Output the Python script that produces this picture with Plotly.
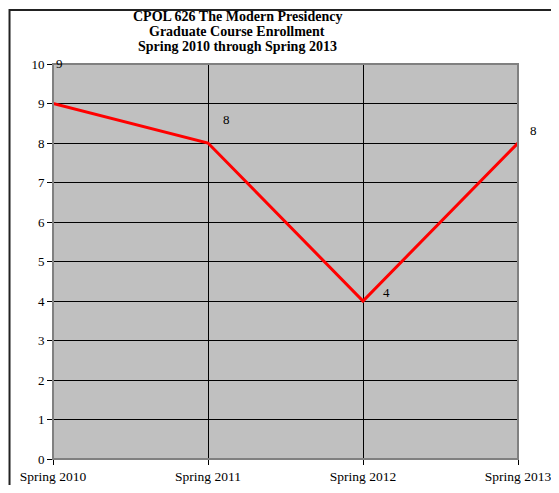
import plotly.graph_objects as go

# data
semesters = ["Spring 2010", "Spring 2011", "Spring 2012", "Spring 2013"]
enrollment = [9, 8, 4, 8]
label_offsets = [(6, 40), (18, 24), (23, 9), (15, 13)]   # (xshift, yshift) px

title_lines = ["CPOL 626 The Modern Presidency",
               "Graduate Course Enrollment",
               "Spring 2010 through Spring 2013"]

SERIF = "Liberation Serif"

fig = go.Figure()

fig.add_trace(go.Scatter(
    x=list(range(len(semesters))), y=enrollment, mode="lines",
    line=dict(color="#ff0000", width=3), hoverinfo="y", showlegend=False
))

# data labels
for i, (v, (dx, dy)) in enumerate(zip(enrollment, label_offsets)):
    fig.add_annotation(x=i, y=v, text=str(v), showarrow=False,
                       xshift=dx, yshift=dy,
                       font=dict(family=SERIF, size=13, color="black"))

# title, one annotation per line (tighter line spacing than plotly's <br>)
for k, line in enumerate(title_lines):
    fig.add_annotation(xref="paper", yref="paper", x=0.396, y=1.119,
                       yshift=-15 * k, text="<b>%s</b>" % line, showarrow=False,
                       xanchor="center", yanchor="middle",
                       font=dict(family=SERIF, size=14, color="black"))

# plot area border (grey on top/right)
fig.add_shape(type="rect", xref="paper", yref="paper", x0=0, y0=0, x1=1, y1=1,
              line=dict(color="#808080", width=2), layer="above")
# outer chart border
fig.add_shape(type="rect", xref="paper", yref="paper",
              x0=-0.0935, y0=-0.2, x1=1.2, y1=1.137,
              line=dict(color="#222222", width=2))

# page body has an 8px margin, so the figure is kept 16px smaller than the window
fig.update_layout(
    width=543, height=477,
    margin=dict(l=45, r=33, t=56, b=26),
    paper_bgcolor="white", plot_bgcolor="#c0c0c0",
    font=dict(family=SERIF, size=14, color="black"),
    xaxis=dict(
        range=[0, 3], tickmode="array",
        tickvals=list(range(len(semesters))), ticktext=semesters,
        showgrid=True, gridcolor="black", gridwidth=1,
        showline=True, linecolor="black", linewidth=1,
        ticks="outside", ticklen=5, tickcolor="black",
        zeroline=False, fixedrange=True, automargin=False,
        ticklabeloverflow="allow",
        tickfont=dict(family=SERIF, size=13.5, color="black")
    ),
    yaxis=dict(
        range=[0, 10], dtick=1,
        showgrid=True, gridcolor="black", gridwidth=1,
        showline=True, linecolor="black", linewidth=1,
        ticks="outside", ticklen=5, tickcolor="black",
        zeroline=False, fixedrange=True, automargin=False,
        tickfont=dict(family=SERIF, size=13, color="black")
    ),
)

fig.write_html("out.html")
